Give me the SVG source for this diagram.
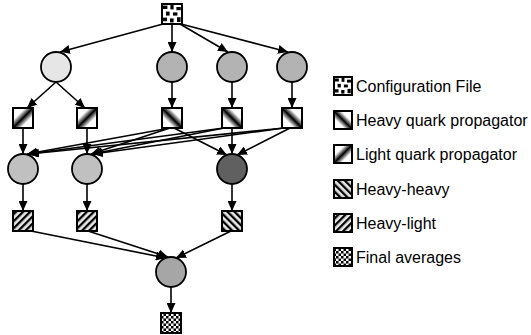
<svg xmlns="http://www.w3.org/2000/svg" width="531" height="335" viewBox="0 0 531 335">
<style>
.ln{stroke:#000;stroke-width:1.6;fill:none}
.nd{stroke:#000;stroke-width:1.8}
.sq{stroke:#000;stroke-width:2}
.lg{font-family:"Liberation Sans",Arial,sans-serif;font-size:16px;fill:#000}
</style>
<defs>
<marker id="ah" markerWidth="10" markerHeight="9" refX="10" refY="4.5" orient="auto" markerUnits="userSpaceOnUse">
<path d="M0,0 L10,4.5 L0,9 Z" fill="#000"/>
</marker>
<pattern id="cfg" patternUnits="objectBoundingBox" patternContentUnits="objectBoundingBox" width="1" height="1">
<rect width="1" height="1" fill="#fff"/>
<g fill="#000">
<rect x="0.05" y="0.08" width="0.22" height="0.17"/>
<rect x="0.42" y="0.05" width="0.16" height="0.22"/>
<rect x="0.72" y="0.15" width="0.22" height="0.16"/>
<rect x="0.2" y="0.38" width="0.18" height="0.2"/>
<rect x="0.55" y="0.42" width="0.22" height="0.16"/>
<rect x="0.05" y="0.68" width="0.2" height="0.18"/>
<rect x="0.4" y="0.72" width="0.18" height="0.2"/>
<rect x="0.75" y="0.66" width="0.18" height="0.24"/>
</g>
</pattern>
<linearGradient id="heavyG" x1="0" y1="1" x2="1" y2="0">
<stop offset="0" stop-color="#fff"/>
<stop offset="0.3" stop-color="#fff"/>
<stop offset="0.5" stop-color="#000"/>
<stop offset="0.7" stop-color="#fff"/>
<stop offset="1" stop-color="#fff"/>
</linearGradient>
<linearGradient id="lightG" x1="0" y1="0" x2="1" y2="1">
<stop offset="0" stop-color="#fff"/>
<stop offset="0.3" stop-color="#fff"/>
<stop offset="0.5" stop-color="#000"/>
<stop offset="0.7" stop-color="#fff"/>
<stop offset="1" stop-color="#fff"/>
</linearGradient>
<pattern id="hh" patternUnits="userSpaceOnUse" width="5" height="5" patternTransform="rotate(-45)">
<rect width="5" height="5" fill="#e8e8e8"/>
<rect width="2.3" height="5" fill="#000"/>
</pattern>
<pattern id="hl" patternUnits="userSpaceOnUse" width="5" height="5" patternTransform="rotate(45)">
<rect width="5" height="5" fill="#e8e8e8"/>
<rect width="2.3" height="5" fill="#000"/>
</pattern>
<pattern id="chk" patternUnits="userSpaceOnUse" width="5" height="5" x="1" y="1">
<rect width="5" height="5" fill="#fff"/>
<rect width="2.5" height="2.5" fill="#000"/>
<rect x="2.5" y="2.5" width="2.5" height="2.5" fill="#000"/>
</pattern>
</defs>

<g id="connectors">
<line class="ln" x1="163" y1="24" x2="60" y2="52" marker-end="url(#ah)"/>
<line class="ln" x1="172" y1="24" x2="172" y2="52" marker-end="url(#ah)"/>
<line class="ln" x1="180" y1="24" x2="228" y2="52" marker-end="url(#ah)"/>
<line class="ln" x1="181" y1="24" x2="288" y2="52" marker-end="url(#ah)"/>
<line class="ln" x1="56" y1="82" x2="27" y2="108" marker-end="url(#ah)"/>
<line class="ln" x1="56" y1="82" x2="85" y2="108" marker-end="url(#ah)"/>
<line class="ln" x1="172" y1="82" x2="172" y2="108" marker-end="url(#ah)"/>
<line class="ln" x1="232" y1="82" x2="232" y2="108" marker-end="url(#ah)"/>
<line class="ln" x1="292" y1="82" x2="292" y2="108" marker-end="url(#ah)"/>
<line class="ln" x1="23" y1="128" x2="23" y2="154" marker-end="url(#ah)"/>
<line class="ln" x1="87" y1="128" x2="87" y2="154" marker-end="url(#ah)"/>
<line class="ln" x1="170" y1="128" x2="27" y2="154" marker-end="url(#ah)"/>
<line class="ln" x1="170" y1="128" x2="91" y2="154" marker-end="url(#ah)"/>
<line class="ln" x1="224" y1="128" x2="28" y2="154" marker-end="url(#ah)"/>
<line class="ln" x1="224" y1="128" x2="92" y2="154" marker-end="url(#ah)"/>
<line class="ln" x1="284" y1="128" x2="29" y2="154" marker-end="url(#ah)"/>
<line class="ln" x1="284" y1="128" x2="93" y2="154" marker-end="url(#ah)"/>
<line class="ln" x1="174" y1="128" x2="227" y2="155" marker-end="url(#ah)"/>
<line class="ln" x1="232" y1="128" x2="232" y2="154" marker-end="url(#ah)"/>
<line class="ln" x1="290" y1="128" x2="237" y2="155" marker-end="url(#ah)"/>
<line class="ln" x1="23" y1="184" x2="23" y2="211" marker-end="url(#ah)"/>
<line class="ln" x1="87" y1="184" x2="87" y2="211" marker-end="url(#ah)"/>
<line class="ln" x1="232" y1="184" x2="232" y2="211" marker-end="url(#ah)"/>
<line class="ln" x1="31" y1="231" x2="166" y2="258" marker-end="url(#ah)"/>
<line class="ln" x1="88" y1="231" x2="168" y2="257" marker-end="url(#ah)"/>
<line class="ln" x1="231" y1="231" x2="176" y2="258" marker-end="url(#ah)"/>
<line class="ln" x1="171" y1="287" x2="171" y2="313" marker-end="url(#ah)"/>
</g>

<g id="config"><rect class="sq" x="162" y="4" width="20" height="20" fill="url(#cfg)"/></g>
<g id="c1"><circle class="nd" cx="56" cy="67" r="15" fill="#e6e6e6"/></g>
<g id="c2"><circle class="nd" cx="172" cy="67" r="15" fill="#b3b3b3"/></g>
<g id="c3"><circle class="nd" cx="232" cy="67" r="15" fill="#b3b3b3"/></g>
<g id="c4"><circle class="nd" cx="292" cy="67" r="15" fill="#b3b3b3"/></g>
<g id="lq1"><rect class="sq" x="13" y="108" width="20" height="20" fill="url(#lightG)"/></g>
<g id="lq2"><rect class="sq" x="77" y="108" width="20" height="20" fill="url(#lightG)"/></g>
<g id="hq1"><rect class="sq" x="162" y="108" width="20" height="20" fill="url(#heavyG)"/></g>
<g id="hq2"><rect class="sq" x="222" y="108" width="20" height="20" fill="url(#heavyG)"/></g>
<g id="hq3"><rect class="sq" x="282" y="108" width="20" height="20" fill="url(#heavyG)"/></g>
<g id="m1"><circle class="nd" cx="23" cy="169" r="15" fill="#c0c0c0"/></g>
<g id="m2"><circle class="nd" cx="87" cy="169" r="15" fill="#c0c0c0"/></g>
<g id="m3"><circle class="nd" cx="232" cy="169" r="15" fill="#606060"/></g>
<g id="hl1"><rect class="sq" x="13" y="211" width="20" height="20" fill="url(#hl)"/></g>
<g id="hl2"><rect class="sq" x="77" y="211" width="20" height="20" fill="url(#hl)"/></g>
<g id="hh1"><rect class="sq" x="222" y="211" width="20" height="20" fill="url(#hh)"/></g>
<g id="fin"><circle class="nd" cx="171" cy="272" r="15" fill="#a6a6a6"/></g>
<g id="avg"><rect class="sq" x="161" y="313" width="20" height="20" fill="url(#chk)"/></g>

<g id="legend">
<rect class="sq" x="334" y="77" width="18" height="18" fill="url(#cfg)"/>
<text class="lg" x="356" y="92">Configuration File</text>
<rect class="sq" x="334" y="111" width="18" height="18" fill="url(#heavyG)"/>
<text class="lg" x="356" y="126">Heavy quark propagator</text>
<rect class="sq" x="334" y="145" width="18" height="18" fill="url(#lightG)"/>
<text class="lg" x="356" y="160">Light quark propagator</text>
<rect class="sq" x="334" y="180" width="18" height="18" fill="url(#hh)"/>
<text class="lg" x="356" y="195">Heavy-heavy</text>
<rect class="sq" x="334" y="214" width="18" height="18" fill="url(#hl)"/>
<text class="lg" x="356" y="229">Heavy-light</text>
<rect class="sq" x="334" y="248" width="18" height="18" fill="url(#chk)"/>
<text class="lg" x="356" y="263">Final averages</text>
</g>
</svg>
